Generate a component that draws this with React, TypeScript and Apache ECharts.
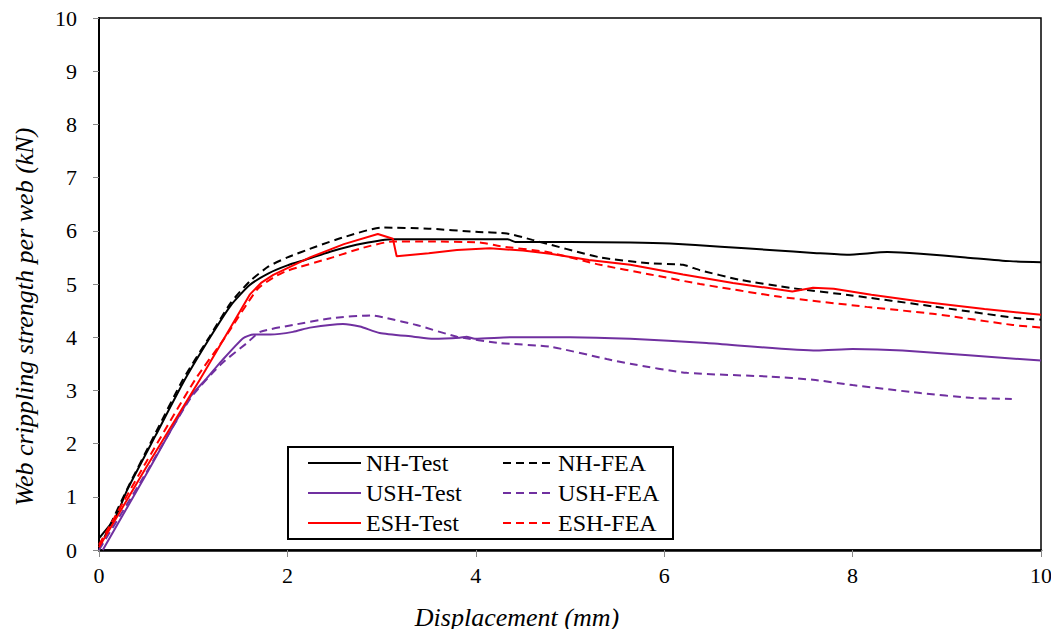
import React, { useEffect, useRef } from "react";
import * as echarts from "echarts";

const xTicks = { min: 0, max: 10, interval: 2 };
const yTicks = { min: 0, max: 10, interval: 1 };
const xTitle = "Displacement (mm)";
const yTitle = "Web crippling strength per web (kN)";

const nhTest: number[][] = [
  [0, 0.22], [0.17, 0.6], [0.3, 1.13], [0.6, 2.15], [0.91, 3.2], [1.18, 4.0], [1.4, 4.6],
  [1.6, 4.98], [1.8, 5.2], [2.0, 5.35], [2.2, 5.46], [2.48, 5.62], [2.8, 5.76], [3.12, 5.84],
  [3.5, 5.84], [4.34, 5.84], [4.42, 5.79], [5.0, 5.79], [5.64, 5.78], [6.06, 5.76], [6.6, 5.7],
  [7.12, 5.64], [7.62, 5.58], [7.94, 5.55], [8.37, 5.6], [8.72, 5.57], [9.2, 5.5], [9.67, 5.43],
  [10, 5.41],
];

const nhFea: number[][] = [
  [0, 0.02], [0.3, 1.15], [0.6, 2.2], [0.89, 3.2], [1.17, 4.0], [1.4, 4.65], [1.6, 5.05],
  [1.8, 5.33], [2.0, 5.5], [2.3, 5.7], [2.6, 5.88], [3.0, 6.06], [3.5, 6.04], [4.0, 5.98],
  [4.33, 5.95], [4.6, 5.83], [5.32, 5.5], [5.85, 5.39], [6.2, 5.36], [6.38, 5.26], [6.8, 5.08],
  [7.37, 4.92], [7.97, 4.79], [8.85, 4.58], [9.74, 4.36], [10, 4.33],
];

const ushTest: number[][] = [
  [0.04, 0], [0.5, 1.42], [0.97, 2.88], [1.13, 3.2], [1.3, 3.55], [1.53, 3.98], [1.64, 4.05],
  [1.82, 4.05], [2.06, 4.1], [2.24, 4.18], [2.59, 4.25], [2.77, 4.2], [2.98, 4.08], [3.34, 4.01],
  [3.55, 3.97], [3.83, 3.99], [3.9, 4.01], [3.99, 3.97], [4.4, 4.0], [5.0, 4.0], [5.64, 3.97],
  [6.45, 3.89], [7.62, 3.75], [8.0, 3.78], [8.53, 3.75], [10, 3.56],
];

const ushFea: number[][] = [
  [0, 0], [0.5, 1.45], [0.97, 2.85], [1.3, 3.5], [1.57, 3.89], [1.71, 4.1], [2.06, 4.23],
  [2.48, 4.36], [2.9, 4.41], [3.05, 4.36], [3.37, 4.23], [3.8, 4.01], [4.26, 3.89], [4.79, 3.82],
  [5.39, 3.59], [5.64, 3.5], [6.24, 3.33], [7.12, 3.26], [7.58, 3.2], [8.0, 3.1], [8.72, 2.95],
  [9.25, 2.86], [9.69, 2.84],
];

const eshTest: number[][] = [
  [0, 0.05], [0.5, 1.55], [1.07, 3.2], [1.32, 3.95], [1.6, 4.8], [1.72, 5.02], [1.85, 5.17],
  [2.0, 5.3], [2.24, 5.5], [2.6, 5.75], [2.96, 5.94], [3.12, 5.85], [3.16, 5.52], [3.5, 5.58],
  [3.8, 5.64], [4.15, 5.67], [4.5, 5.63], [4.79, 5.57], [5.2, 5.45], [5.64, 5.36], [6.2, 5.18],
  [6.73, 5.02], [7.36, 4.86], [7.58, 4.93], [7.8, 4.91], [8.2, 4.8], [8.72, 4.67], [9.4, 4.53],
  [10, 4.42],
];

const eshFea: number[][] = [
  [0, 0.1], [0.5, 1.65], [1.02, 3.2], [1.34, 4.0], [1.68, 4.9], [1.85, 5.12], [2.0, 5.25],
  [2.48, 5.5], [2.8, 5.68], [3.12, 5.8], [3.5, 5.8], [4.04, 5.78], [4.26, 5.71], [4.76, 5.6],
  [5.32, 5.36], [5.85, 5.18], [6.38, 5.0], [7.23, 4.76], [8.15, 4.57], [8.85, 4.44],
  [9.7, 4.23], [10, 4.18],
];

const FONT = "'Liberation Serif', 'Times New Roman', serif";
const BLACK = "#000000";
const PURPLE = "#7030A0";
const RED = "#FF0000";
const DASH = [8, 5];

function mk(name: string, data: number[][], color: string, dashed: boolean, smooth: number | boolean) {
  return {
    name,
    type: "line",
    data,
    symbol: "none",
    smooth,
    lineStyle: { color, width: 2, type: dashed ? DASH : "solid" },
    itemStyle: { color },
    z: 3,
  };
}

export default function App() {
  const ref = useRef<HTMLDivElement>(null);
  useEffect(() => {
    if (!ref.current) return;
    const chart = echarts.init(ref.current, undefined, { renderer: "svg" });
    const legendText = { fontFamily: FONT, fontSize: 24, color: "#000", lineHeight: 24 };
    chart.setOption({
      animation: false,
      backgroundColor: "#fff",
      grid: {
        left: 99, right: 18, top: 18, bottom: 87,
        show: true, borderColor: "#000", borderWidth: 1.5, backgroundColor: "transparent",
      },
      xAxis: {
        type: "value",
        min: xTicks.min, max: xTicks.max, interval: xTicks.interval,
        axisLine: { show: true, onZero: false, lineStyle: { color: "#000", width: 2.5 } },
        axisTick: { show: true, inside: false, length: 7, lineStyle: { color: "#888", width: 1 } },
        axisLabel: { fontFamily: FONT, fontSize: 22, color: "#000", margin: 14 },
        splitLine: { show: false },
      },
      yAxis: {
        type: "value",
        min: yTicks.min, max: yTicks.max, interval: yTicks.interval,
        axisLine: { show: true, onZero: false, lineStyle: { color: "#000", width: 2 } },
        axisTick: { show: true, inside: false, length: 6, lineStyle: { color: "#888", width: 1 } },
        axisLabel: { fontFamily: FONT, fontSize: 22, color: "#000", margin: 22 },
        splitLine: { show: false },
      },
      legend: [
        {
          data: ["NH-Test", "USH-Test", "ESH-Test"],
          orient: "vertical",
          left: 307, top: 451,
          padding: 0,
          itemWidth: 53, itemHeight: 14, itemGap: 6,
          itemStyle: { opacity: 0 },
          textStyle: legendText,
          selectedMode: false,
          z: 20,
        },
        {
          data: ["NH-FEA", "USH-FEA", "ESH-FEA"],
          orient: "vertical",
          left: 502, top: 451,
          padding: 0,
          itemWidth: 50, itemHeight: 14, itemGap: 6,
          itemStyle: { opacity: 0 },
          textStyle: legendText,
          selectedMode: false,
          z: 20,
        },
      ],
      graphic: [
        {
          type: "rect",
          z: 1,
          shape: { x: 288, y: 447, width: 385, height: 92 },
          style: { fill: "#fff", stroke: "#000", lineWidth: 2 },
        },
        {
          type: "text",
          x: 517,
          y: 617,
          style: {
            text: xTitle,
            fontFamily: FONT, fontSize: 26, fontStyle: "italic", fill: "#000",
            align: "center", verticalAlign: "middle",
          },
        },
        {
          type: "text",
          x: 24,
          y: 317,
          rotation: Math.PI / 2,
          style: {
            text: yTitle,
            fontFamily: FONT, fontSize: 26, fontStyle: "italic", fill: "#000",
            align: "center", verticalAlign: "middle",
          },
        },
      ],
      series: [
        mk("NH-Test", nhTest, BLACK, false, 0.2),
        mk("NH-FEA", nhFea, BLACK, true, 0.2),
        mk("USH-Test", ushTest, PURPLE, false, 0.2),
        mk("USH-FEA", ushFea, PURPLE, true, 0.2),
        mk("ESH-Test", eshTest, RED, false, false),
        mk("ESH-FEA", eshFea, RED, true, 0.2),
      ],
    });
    return () => chart.dispose();
  }, []);
  return <div ref={ref} style={{ width: 1059, height: 637, margin: -8 }} />;
}
